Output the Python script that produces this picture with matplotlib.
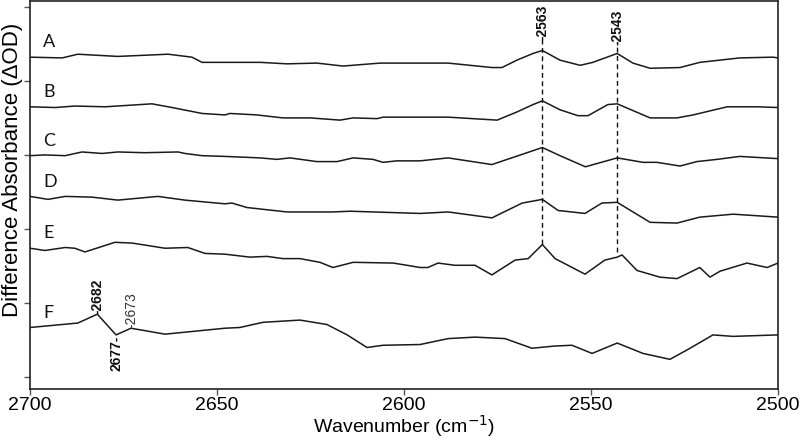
import matplotlib
matplotlib.use("Agg")
import matplotlib.pyplot as plt

plt.rcParams['font.family'] = ['Liberation Sans', 'DejaVu Sans']

# Spectra: wavenumber (cm-1) and difference absorbance relative to trace baseline (arb. units)
wA = [2700, 2691.4, 2687.2, 2676.5, 2663.1, 2656.7, 2654, 2647.9, 2638.5, 2631.3, 2623.3, 2616.3, 2606.4,
      2595.7, 2588.2, 2576.5, 2573.8, 2569.8, 2565.5, 2563, 2558.3, 2552.9, 2549.5, 2543, 2538.8, 2534.2,
      2526.2, 2520.9, 2510.2, 2501.3, 2500]
yA = [0, -0.1, 0.4, 0.1, 0.4, 0, -0.7, -0.7, -0.7, -0.9, -0.8, -1.2, -0.8,
      -0.8, -0.8, -1.4, -1.4, -0.4, 0.5, 0.9, -0.4, -1.1, -0.7, 0.5, -0.8, -1.5,
      -1.4, -0.7, -0.1, 0, -0.1]

wB = [2700, 2693.3, 2688, 2679.9, 2667.4, 2662, 2654, 2647.9, 2646.5, 2639.3, 2632.4, 2625.1, 2617.1,
      2613.6, 2607.2, 2605.6, 2599.2, 2595.7, 2588.2, 2575.1, 2569.8, 2565.5, 2563, 2558.3, 2553.5,
      2550.8, 2545.5, 2543, 2534.2, 2527, 2522.7, 2513.6, 2505.6, 2500]
yB = [0, -0.1, 0.1, 0, 0.4, -0.1, -0.9, -1.1, -0.9, -1.1, -1.5, -1.5, -1.8,
      -1.5, -1.6, -1.4, -1.4, -1.4, -1.4, -1.8, -0.7, 0.3, 0.8, -0.4, -1.2,
      -1.2, 0.3, 0.4, -1.5, -1.5, -1.1, 0, 0, -0.1]

wC = [2700, 2696, 2690.6, 2686.1, 2680.7, 2676.5, 2669.3, 2660.4, 2658.6, 2654, 2647.9, 2638.5, 2634,
      2630.5, 2623.3, 2617.9, 2613.6, 2608.3, 2605.6, 2601.9, 2595.7, 2588.2, 2576.5, 2563, 2558.3,
      2551.5, 2543, 2536.1, 2532.4, 2526.2, 2521.7, 2516.3, 2510.2, 2500]
yC = [0, 0.1, 0, 0.5, 0.3, 0.5, 0.4, 0.5, 0.3, 0, -0.1, -0.3, -0.5,
      -0.3, -0.8, -0.8, -0.3, -0.5, -0.9, -0.7, -0.7, -0.3, -1.2, 1.1, 0,
      -1.5, -0.3, -0.9, -0.9, -1.4, -0.8, -0.5, -0.1, -0.4]

wD = [2700, 2695.2, 2690.6, 2683.4, 2676.5, 2665.8, 2658.6, 2647.9, 2646, 2642, 2631.3, 2619, 2614.4,
      2595.7, 2588.2, 2576.5, 2568.4, 2563, 2558.8, 2551.6, 2547.1, 2543, 2534.2, 2527, 2520.9, 2512, 2500]
yD = [0.1, -0.3, 0.1, 0, -0.4, 0.1, -0.4, -0.9, -0.8, -1.4, -2.0, -2.0, -1.9,
      -2.2, -2.0, -2.8, -0.8, -0.3, -1.8, -2.2, -0.8, -0.7, -3.4, -3.5, -2.7, -2.3, -2.7]

wE = [2700, 2696, 2690.6, 2688, 2685.3, 2677.3, 2672.7, 2663.9, 2657.8, 2653.2, 2647.9, 2641.2, 2636.6,
      2632.4, 2627.8, 2622.5, 2619, 2613.6, 2602.9, 2599.2, 2595.7, 2593.6, 2590.9, 2586.4, 2581, 2576.5,
      2570.3, 2566.8, 2563, 2559.6, 2551.6, 2546.3, 2543, 2541.7, 2537.7, 2531.6, 2527, 2520.9, 2518.2,
      2515.5, 2508.3, 2502.9, 2500]
yE = [0, -0.3, 0.1, 0, -0.5, 0.8, 0.7, 0, 0.1, -0.7, -0.8, -1.2, -1.1,
      -1.4, -1.4, -1.9, -2.6, -1.9, -2.0, -2.3, -2.6, -2.6, -2.0, -2.3, -2.3, -3.6,
      -1.6, -1.4, 0.5, -1.4, -3.5, -1.6, -1.2, -0.9, -3.0, -3.9, -4.1, -2.6, -3.9,
      -3.1, -2.0, -2.6, -2.0]

wF = [2700, 2687.2, 2682, 2677, 2673, 2663.9, 2647.9, 2643.9, 2637.7, 2627.8, 2620.6, 2615.2, 2609.9,
      2605.6, 2595.7, 2588.2, 2581, 2573, 2565.8, 2559.6, 2555.1, 2549.7, 2543, 2536.1, 2528.9, 2523.5,
      2517.4, 2512, 2500]
yF = [0.1, 0.7, 1.9, -0.9, 0, -0.8, 0, 0.1, 0.8, 1.1, 0.5, -0.9, -2.6,
      -2.3, -2.2, -1.4, -1.2, -1.4, -2.7, -2.4, -2.3, -3.4, -2.0, -3.4, -4.2, -2.7,
      -0.9, -1.1, -0.9]

trace_names = ['A', 'B', 'C', 'D', 'E', 'F']
trace_offsets = [43.2, 36.5, 29.9, 24.3, 17.4, 6.6]
waves = [wA, wB, wC, wD, wE, wF]
values = [yA, yB, yC, yD, yE, yF]

# Marked peaks
dashed_peaks = [2563, 2543]
dashed_peak_top = [44.5, 43.8]      # trace A peak value
dashed_peak_bottom = [18.0, 16.9]   # where dashed line ends (trace E)
f_labels = ['2682', '2677', '2673']
f_label_x = [2682, 2677, 2673]

fig = plt.figure(figsize=(8.0, 4.41), dpi=100)
ax = fig.add_axes([0.0375, 0.118, 0.935, 0.880])

for name, off, w, v in zip(trace_names, trace_offsets, waves, values):
    ax.plot(w, [off + val for val in v], color='#1a1a1a', lw=1.1)
    ax.text(2696.5, off + 2.0, name, fontsize=13, family=['Lato', 'DejaVu Sans'],
            ha='left', va='center', color='#111111')

# dashed peak markers
for x, top, bot in zip(dashed_peaks, dashed_peak_top, dashed_peak_bottom):
    ax.plot([x, x], [bot, top + 1.5], color='#111111', lw=1.0, ls=(0, (3.5, 2.5)))
    ax.text(x, top + 1.0, '-' + str(x), rotation=90, ha='center', va='bottom',
            fontsize=10, fontweight='bold', color='#111111')

# F-trace labels
fo = trace_offsets[5]
ax.text(f_label_x[0], fo + 1.95, '-' + f_labels[0], rotation=90, ha='center', va='bottom',
        fontsize=10, fontweight='bold', color='#111111')
ax.text(f_label_x[1], fo - 1.0, f_labels[1] + '-', rotation=90, ha='center', va='top',
        fontsize=10, fontweight='bold', color='#111111')
ax.text(f_label_x[2], fo + 0.0, '-' + f_labels[2], rotation=90, ha='center', va='bottom',
        fontsize=10, color='#333333')

ax.set_xlim(2700, 2500)
ax.set_ylim(-1.6, 50.8)
ax.set_xticks([2700, 2650, 2600, 2550, 2500])
ax.set_yticks([0, 10, 20, 30, 40, 50])
ax.set_yticklabels([])
ax.tick_params(axis='x', labelsize=14, length=4, width=1, color='#555555', pad=2)
ax.tick_params(axis='y', length=4, width=1, color='#555555')
for s in ax.spines.values():
    s.set_linewidth(1.2)
    s.set_color('#222222')

ax.set_xlabel('Wavenumber (cm$^{-1}$)', fontsize=14, labelpad=-1)
ax.set_ylabel('Difference Absorbance (ΔOD)', fontsize=16, va='top')
ax.yaxis.set_label_coords(-0.037, 0.565)

fig.savefig('out.png', dpi=100)
